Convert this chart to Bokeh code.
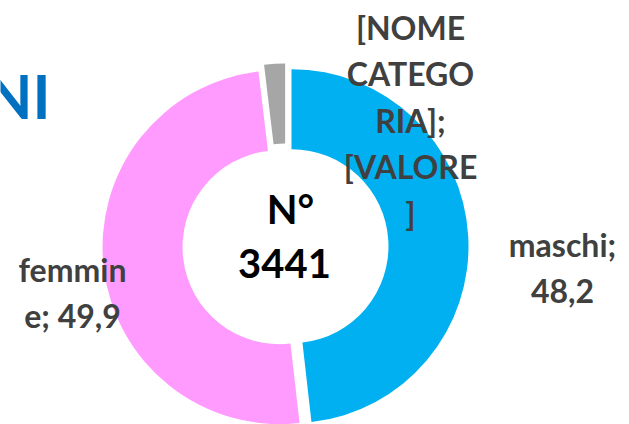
import numpy as np
from bokeh.plotting import figure
from bokeh.models import Range1d, ColumnDataSource
from bokeh.core.properties import value
from bokeh.embed import file_html
from bokeh.resources import INLINE

# ---- data ----
categories = ["maschi", "femmine", "[NOME CATEGORIA]"]
values = [48.2, 49.9, 1.9]
label_lines = [["maschi;", "48,2"],
               ["femmin", "e; 49,9"],
               ["[NOME", "CATEGO", "RIA];", "[VALORE", "]"]]
center_lines = ["N°", "3441"]
title_text = "NI"

# ---- style / layout ----
colors = ["#00B0F0", "#FF9BFF", "#A6A6A6"]
W, H = 629, 424
FONT = "Lato"
LABEL_COLOR = "#404040"
BASE_CORR = 0.42             # empirical baseline correction (fraction of font size)
cx, cy_s = 285, 246          # donut centre (screen px)
R_OUT, R_IN, EXPLODE = 177, 97, 6
LABEL_SIZE, CENTER_SIZE, TITLE_SIZE = 32, 40, 61
label_pos = [(562, 257, 47), (72, 282, 46), (410, 40, 46.5)]  # x, first baseline, spacing
center_pos = [(290, 225), (284, 280)]


def Y(s, size=0):  # screen y (baseline) -> data y
    return H - s + BASE_CORR * size


p = figure(width=W, height=H, x_range=Range1d(0, W), y_range=Range1d(0, H),
           output_backend="svg", toolbar_location=None, min_border=0)
p.axis.visible = False
p.grid.visible = False
p.outline_line_color = None
p.background_fill_color = "white"
p.border_fill_color = "white"

vals = np.array(values, dtype=float)
frac = vals / vals.sum()
cum = np.concatenate([[0], np.cumsum(frac)])
start = np.pi / 2 - 2 * np.pi * cum[:-1]
end = np.pi / 2 - 2 * np.pi * cum[1:]
mid = (start + end) / 2
xs = cx + EXPLODE * np.cos(mid)
ys = Y(cy_s) + EXPLODE * np.sin(mid)

src = ColumnDataSource(dict(x=xs, y=ys, start=start, end=end, color=colors, cat=categories))
p.annular_wedge(x="x", y="y", inner_radius=R_IN, outer_radius=R_OUT,
                start_angle="start", end_angle="end", direction="clock",
                fill_color="color", line_color=None, source=src)

# data labels
lx, ly, lt = [], [], []
for (x0, b0, sp), lines in zip(label_pos, label_lines):
    for i, t in enumerate(lines):
        lx.append(x0)
        ly.append(Y(b0 + i * sp, LABEL_SIZE))
        lt.append(t)
p.text(x=lx, y=ly, text=lt, text_align="center", text_baseline="alphabetic",
       text_font=value(FONT), text_font_style="bold", text_font_size=f"{LABEL_SIZE}px",
       text_color=LABEL_COLOR)

# centre text
p.text(x=[c[0] for c in center_pos], y=[Y(c[1], CENTER_SIZE) for c in center_pos],
       text=center_lines, text_align="center", text_baseline="alphabetic",
       text_font=value(FONT), text_font_style="bold", text_font_size=f"{CENTER_SIZE}px",
       text_color="black")

# clipped title fragment
p.text(x=[50], y=[Y(121, TITLE_SIZE)], text=[title_text], text_align="right",
       text_baseline="alphabetic", text_font=value(FONT), text_font_style="bold",
       text_font_size=f"{TITLE_SIZE}px", text_color="#0070C0")

open("out.html", "w").write(file_html(p, INLINE))
